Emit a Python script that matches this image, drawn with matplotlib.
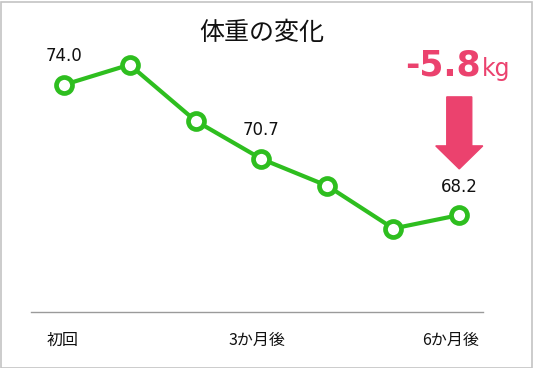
import matplotlib
matplotlib.use("Agg")
import matplotlib.pyplot as plt
import matplotlib.transforms as mtransforms
from matplotlib.patches import Rectangle, Polygon

plt.rcParams['font.family'] = ['Noto Sans CJK JP', 'DejaVu Sans']

title = "体重の変化"
weights = [74.0, 74.9, 72.4, 70.7, 69.5, 67.6, 68.2]
tick_pos = [0, 3, 6]
tick_labels = ["初回", "3か月後", "6か月後"]
label_idx = [0, 3, 6]
diff_text = "-5.8"
diff_unit = "kg"

green = "#2EBE1F"
pink = "#EB426E"

W, H = 534, 368
fig = plt.figure(figsize=(W / 100, H / 100), dpi=100)
fig.patches.append(Rectangle((0.5 / W, 0.5 / H), 1 - 2.5 / W, 1 - 2.5 / H,
                             transform=fig.transFigure, fill=False,
                             edgecolor="#C4C4C4", linewidth=1.2))

ax_l, ax_r, ax_b, ax_t = 30.7, 483, H - 312, H - 40
ax = fig.add_axes([ax_l / W, ax_b / H, (ax_r - ax_l) / W, (ax_t - ax_b) / H])
xlim = (-0.5, 6.36)
ylim = (63.88, 76.0)
ax.set_xlim(*xlim)
ax.set_ylim(*ylim)

x = list(range(len(weights)))
ax.plot(x, weights, color=green, linewidth=3.0, marker="o", markersize=11.5,
        markerfacecolor="white", markeredgecolor=green, markeredgewidth=3.4,
        zorder=3, clip_on=False)

for i in label_idx:
    ax.annotate(f"{weights[i]:.1f}", (x[i], weights[i]), xytext=(0, 14),
                textcoords="offset points", ha="center", va="bottom",
                fontsize=12, color="#111111", family="DejaVu Sans")

for s in ["top", "right", "left"]:
    ax.spines[s].set_visible(False)
ax.spines["bottom"].set_color("#9A9A9A")
ax.spines["bottom"].set_linewidth(1.0)
ax.set_yticks([])
ax.set_xticks(tick_pos)
ax.set_xticklabels(tick_labels, fontsize=11.5, color="#111111")
ax.tick_params(axis="x", length=0, pad=14)
shifts = [-1, -5, -9]
for lab, dx in zip(ax.get_xticklabels(), shifts):
    lab.set_transform(lab.get_transform() +
                      mtransforms.ScaledTranslation(dx / 100, 0, fig.dpi_scale_trans))

fig.text(262 / W, 1 - 33 / H, title, ha="center", va="center", fontsize=18,
         color="#111111")

# arrow (in data units anchored at last point)
px_x = (ax_r - ax_l) / (xlim[1] - xlim[0])
px_y = (ax_t - ax_b) / (ylim[1] - ylim[0])
xc = x[-1]
y_top = weights[0] + (85 - 97) / px_y
y_neck = weights[0] + (85 - 146) / px_y
y_tip = weights[0] + (85 - 169) / px_y
hs = 12.5 / px_x
hh = 23.5 / px_x
verts = [(xc - hs, y_top), (xc + hs, y_top), (xc + hs, y_neck), (xc + hh, y_neck),
         (xc, y_tip), (xc - hh, y_neck), (xc - hs, y_neck)]
ax.add_patch(Polygon(verts, closed=True, color=pink, clip_on=False, zorder=2))

fig.text(481 / W, 1 - 76 / H, diff_text, ha="right", va="baseline",
         fontsize=25, fontweight="bold", color=pink, family="DejaVu Sans")
fig.text(482 / W, 1 - 76 / H, diff_unit, ha="left", va="baseline",
         fontsize=17, color=pink, family="DejaVu Sans")

fig.savefig("out.png", dpi=100)
